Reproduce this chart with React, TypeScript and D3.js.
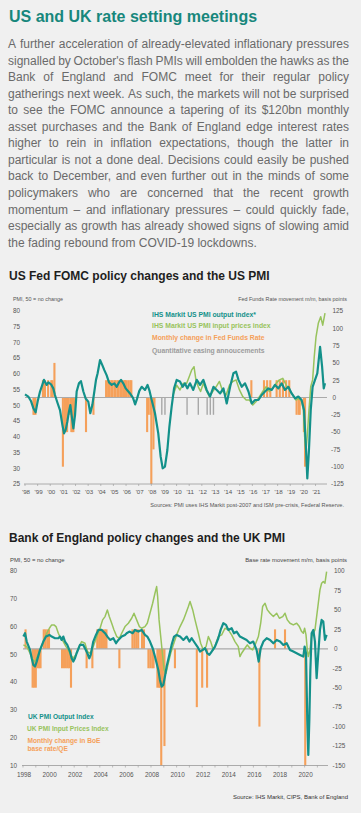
import React from 'react';
import * as d3 from 'd3';

// ---- text ----
const pageTitle = 'US and UK rate setting meetings';
const bodyLines = [
  'A further acceleration of already-elevated inflationary pressures',
  "signalled by October's flash PMIs will embolden the hawks as the",
  'Bank of England and FOMC meet for their regular policy',
  'gatherings next week. As such, the markets will not be surprised',
  'to see the FOMC announce a tapering of its $120bn monthly',
  'asset purchases and the Bank of England edge interest rates',
  'higher to rein in inflation expectations, though the latter in',
  'particular is not a done deal. Decisions could easily be pushed',
  'back to December, and even further out in the minds of some',
  'policymakers who are concerned that the recent growth',
  'momentum \u2013 and inflationary pressures \u2013 could quickly fade,',
  'especially as growth has already showed signs of slowing amid',
  'the fading rebound from COVID-19 lockdowns.',
];

// ---- US chart data: [year, value] ----
const usOutput: [number, number][] = [
  [1998.0, 53.5], [1998.26, 52.8], [1998.47, 51.4], [1998.66, 49.1], [1998.84, 47.8], [1999.0, 51.2],
  [1999.19, 54.4], [1999.37, 56.5], [1999.5, 58.1], [1999.72, 56.5], [1999.85, 57.3], [2000.06, 56.7],
  [2000.24, 55.4], [2000.37, 53.3], [2000.59, 50.6], [2000.77, 48.5], [2000.96, 43.8], [2001.09, 41.1],
  [2001.22, 42.2], [2001.35, 44.8], [2001.48, 48.0], [2001.59, 50.1], [2001.69, 46.9], [2001.83, 42.7],
  [2001.96, 46.9], [2002.09, 54.4], [2002.27, 57.0], [2002.43, 57.7], [2002.62, 54.4], [2002.8, 52.2],
  [2003.01, 51.2], [2003.17, 47.5], [2003.33, 50.1], [2003.49, 54.4], [2003.62, 58.1], [2003.75, 60.2],
  [2003.94, 64.4], [2004.12, 62.8], [2004.28, 61.2], [2004.46, 59.6], [2004.65, 57.3], [2004.86, 56.5],
  [2005.07, 57.0], [2005.26, 55.9], [2005.44, 57.3], [2005.6, 58.1], [2005.78, 57.0], [2005.97, 55.4],
  [2006.18, 54.4], [2006.35, 53.6], [2006.55, 52.4], [2006.72, 50.3], [2006.86, 52.0], [2007.05, 54.6],
  [2007.24, 55.9], [2007.5, 54.9], [2007.7, 56.5], [2007.86, 54.6], [2008.03, 51.7], [2008.29, 47.5],
  [2008.55, 41.1], [2008.74, 33.7], [2008.9, 30.0], [2009.08, 30.5], [2009.27, 35.8], [2009.43, 43.2],
  [2009.61, 49.6], [2009.8, 55.4], [2010.01, 58.1], [2010.27, 57.6], [2010.48, 55.9], [2010.66, 57.0],
  [2010.85, 55.4], [2011.06, 57.0], [2011.32, 54.9], [2011.6, 58.1], [2011.86, 56.5], [2012.12, 58.1],
  [2012.38, 54.9], [2012.65, 52.8], [2012.92, 55.9], [2013.18, 54.9], [2013.45, 53.8], [2013.71, 55.4],
  [2013.97, 50.6], [2014.24, 55.9], [2014.5, 60.2], [2014.71, 60.7], [2014.9, 58.1], [2015.16, 55.9],
  [2015.42, 57.0], [2015.69, 54.4], [2015.95, 50.6], [2016.21, 51.7], [2016.48, 51.7], [2016.74, 53.3],
  [2017.0, 54.4], [2017.27, 55.4], [2017.53, 54.9], [2017.79, 56.5], [2018.06, 55.4], [2018.32, 57.0],
  [2018.58, 54.9], [2018.85, 55.9], [2019.11, 53.8], [2019.38, 52.2], [2019.64, 52.8], [2019.9, 51.7],
  [2020.09, 48.5], [2020.25, 35.8], [2020.35, 26.8], [2020.48, 35.8], [2020.62, 48.5], [2020.77, 55.9],
  [2020.96, 58.1], [2021.14, 60.2], [2021.36, 68.6], [2021.52, 62.3], [2021.65, 55.4], [2021.75, 57.0],
];
const usInput: [number, number][] = [
  [2009.72, 53.3], [2010.01, 56.4], [2010.27, 54.9], [2010.53, 57.0], [2010.8, 57.0], [2011.0, 59.1],
  [2011.19, 61.2], [2011.38, 62.3], [2011.53, 58.1], [2011.72, 55.9], [2011.9, 54.4], [2012.12, 57.0],
  [2012.33, 54.9], [2012.6, 52.8], [2012.86, 54.4], [2013.13, 55.9], [2013.39, 57.6], [2013.66, 54.4],
  [2013.92, 53.3], [2014.19, 56.5], [2014.45, 57.6], [2014.71, 58.1], [2014.98, 54.9], [2015.24, 52.8],
  [2015.51, 51.7], [2015.77, 51.7], [2016.03, 50.1], [2016.3, 51.2], [2016.56, 52.8], [2016.82, 54.4],
  [2017.09, 55.9], [2017.35, 54.4], [2017.62, 55.4], [2017.88, 57.0], [2018.14, 58.1], [2018.41, 58.6],
  [2018.67, 56.5], [2018.93, 54.9], [2019.2, 53.3], [2019.46, 51.7], [2019.72, 52.2], [2019.9, 51.2],
  [2020.04, 48.5], [2020.14, 40.0], [2020.24, 35.5], [2020.35, 40.5], [2020.48, 48.5], [2020.62, 55.9],
  [2020.77, 58.1], [2020.9, 65.5], [2021.04, 71.8], [2021.22, 76.1], [2021.41, 78.2], [2021.57, 75.5],
  [2021.75, 79.3],
];
const fedMoves: [number, number][] = [
  [1998.67, -25], [1998.75, -25], [1998.83, -25],
  [1999.42, 25], [1999.58, 25], [1999.83, 25], [2000.08, 25], [2000.17, 25], [2000.33, 50],
  [2001.0, -100], [2001.17, -50], [2001.25, -50], [2001.33, -50], [2001.42, -25], [2001.58, -25],
  [2001.67, -50], [2001.75, -50], [2001.83, -50], [2001.92, -25],
  [2002.83, -50], [2003.42, -25],
  [2004.42, 25], [2004.58, 25], [2004.67, 25], [2004.83, 25], [2004.92, 25], [2005.08, 25], [2005.17, 25],
  [2005.33, 25], [2005.42, 25], [2005.58, 25], [2005.67, 25], [2005.83, 25], [2005.92, 25], [2006.0, 25],
  [2006.17, 25], [2006.33, 25], [2006.42, 25],
  [2007.67, -50], [2007.75, -25], [2007.92, -25], [2008.0, -125], [2008.17, -75], [2008.25, -25],
  [2015.92, 25], [2016.92, 25], [2017.17, 25], [2017.42, 25], [2017.92, 25], [2018.17, 25], [2018.42, 25],
  [2018.67, 25], [2018.92, 25],
  [2019.5, -25], [2019.67, -25], [2019.75, -25], [2020.08, -50], [2020.17, -100],
];
const qeDates = [2008.83, 2009.08, 2010.83, 2011.72, 2012.42, 2012.67, 2012.92];
const qeSize = -25;
const usYearLabels = d3.range(1998, 2022);

// ---- UK chart data ----
const ukOutput: [number, number][] = [
  [1998.03, 56.4], [1998.16, 57.6], [1998.29, 54.6], [1998.55, 51.6], [1998.68, 48.6], [1998.81, 46.2],
  [1998.94, 45.6], [1999.07, 47.4], [1999.33, 51.6], [1999.59, 54.6], [1999.8, 56.4], [2000.06, 57.0],
  [2000.24, 56.4], [2000.5, 55.8], [2000.76, 55.8], [2000.89, 56.4], [2001.02, 55.2], [2001.15, 56.4],
  [2001.28, 54.6], [2001.46, 53.4], [2001.67, 51.0], [2001.8, 48.6], [2001.93, 47.4], [2002.06, 48.6],
  [2002.19, 50.4], [2002.45, 53.4], [2002.71, 53.4], [2002.84, 52.2], [2003.03, 50.4], [2003.18, 48.6],
  [2003.29, 49.8], [2003.49, 54.6], [2003.7, 57.0], [2003.89, 58.8], [2004.15, 58.8], [2004.41, 57.6],
  [2004.59, 56.4], [2004.8, 55.2], [2005.06, 55.8], [2005.27, 54.0], [2005.45, 55.2], [2005.71, 56.4],
  [2005.97, 57.0], [2006.1, 57.6], [2006.31, 58.2], [2006.57, 57.6], [2006.75, 58.8], [2007.01, 58.2],
  [2007.27, 58.8], [2007.53, 57.0], [2007.71, 56.4], [2007.92, 54.6], [2008.13, 52.2], [2008.31, 49.2],
  [2008.44, 46.8], [2008.57, 44.4], [2008.7, 40.8], [2008.83, 38.4], [2008.96, 39.0], [2009.09, 42.0],
  [2009.22, 45.6], [2009.43, 49.8], [2009.61, 53.4], [2009.8, 56.4], [2010.0, 57.0], [2010.27, 56.4],
  [2010.53, 55.2], [2010.79, 56.4], [2011.0, 54.6], [2011.18, 55.8], [2011.44, 54.0], [2011.62, 52.8],
  [2011.83, 51.0], [2012.04, 51.6], [2012.22, 52.2], [2012.4, 50.4], [2012.56, 49.8], [2012.74, 51.0],
  [2013.0, 52.8], [2013.26, 55.8], [2013.44, 58.8], [2013.65, 61.2], [2013.86, 60.6], [2014.04, 58.8],
  [2014.3, 59.4], [2014.48, 57.6], [2014.69, 58.2], [2014.95, 56.4], [2015.21, 55.8], [2015.47, 55.2],
  [2015.73, 54.0], [2015.99, 54.6], [2016.25, 51.6], [2016.41, 47.4], [2016.57, 52.2], [2016.78, 54.6],
  [2017.04, 55.8], [2017.3, 55.2], [2017.56, 54.0], [2017.82, 55.2], [2018.08, 54.6], [2018.34, 53.4],
  [2018.6, 54.0], [2018.86, 51.6], [2019.12, 51.0], [2019.38, 50.4], [2019.64, 49.8], [2019.9, 49.2],
  [2020.0, 52.8], [2020.11, 50.4], [2020.21, 26.4], [2020.29, 13.8], [2020.37, 26.4], [2020.45, 44.4],
  [2020.55, 57.6], [2020.68, 58.8], [2020.81, 54.6], [2020.94, 41.4], [2021.07, 50.4], [2021.2, 58.8],
  [2021.33, 62.4], [2021.46, 61.8], [2021.59, 55.2], [2021.72, 57.0],
];
const ukInput: [number, number][] = [
  [1998.03, 53.4], [1998.29, 52.8], [1998.55, 50.4], [1998.76, 48.0], [1998.94, 47.4], [1999.12, 49.2],
  [1999.33, 51.6], [1999.59, 54.6], [1999.85, 57.6], [2000.06, 59.4], [2000.24, 60.6], [2000.42, 60.6],
  [2000.58, 60.0], [2000.76, 57.6], [2000.94, 55.8], [2001.15, 54.6], [2001.36, 52.8], [2001.54, 51.6],
  [2001.72, 49.8], [2001.93, 48.6], [2002.11, 49.8], [2002.32, 52.2], [2002.58, 54.6], [2002.84, 54.0],
  [2003.03, 51.0], [2003.23, 50.4], [2003.44, 52.2], [2003.63, 54.6], [2003.81, 57.0], [2004.02, 59.4],
  [2004.22, 62.4], [2004.41, 63.6], [2004.59, 66.0], [2004.74, 63.6], [2004.93, 61.2], [2005.11, 58.8],
  [2005.32, 56.4], [2005.53, 55.8], [2005.71, 57.6], [2005.97, 60.0], [2006.23, 61.2], [2006.49, 63.0],
  [2006.67, 64.8], [2006.88, 62.4], [2007.09, 60.0], [2007.27, 59.4], [2007.53, 60.0], [2007.71, 61.2],
  [2007.92, 64.8], [2008.13, 68.4], [2008.31, 72.0], [2008.44, 74.4], [2008.52, 70.8], [2008.63, 62.4],
  [2008.76, 56.4], [2008.89, 50.4], [2009.02, 44.4], [2009.17, 43.2], [2009.35, 46.8], [2009.54, 50.4],
  [2009.74, 53.4], [2010.0, 57.0], [2010.27, 60.0], [2010.53, 62.4], [2010.73, 64.8], [2010.92, 67.2],
  [2011.05, 69.0], [2011.26, 66.0], [2011.44, 62.4], [2011.7, 57.6], [2011.88, 54.0], [2012.09, 51.6],
  [2012.3, 52.8], [2012.48, 56.4], [2012.66, 54.6], [2012.87, 51.6], [2013.08, 54.0], [2013.26, 56.4],
  [2013.52, 57.0], [2013.78, 59.4], [2014.04, 58.8], [2014.3, 57.0], [2014.56, 54.6], [2014.82, 52.8],
  [2014.95, 49.2], [2015.08, 50.4], [2015.34, 52.2], [2015.52, 53.4], [2015.73, 52.2], [2015.94, 51.6],
  [2016.13, 53.4], [2016.39, 56.4], [2016.57, 61.2], [2016.72, 67.2], [2016.91, 68.4], [2017.09, 66.0],
  [2017.3, 64.8], [2017.56, 63.6], [2017.82, 64.8], [2018.03, 63.0], [2018.29, 63.6], [2018.47, 64.8],
  [2018.65, 62.4], [2018.86, 61.2], [2019.12, 60.6], [2019.38, 61.2], [2019.59, 60.0], [2019.77, 58.2],
  [2019.9, 57.6], [2020.0, 59.4], [2020.11, 57.0], [2020.21, 51.6], [2020.29, 49.2], [2020.42, 51.6],
  [2020.55, 56.4], [2020.68, 57.6], [2020.81, 58.8], [2020.94, 63.6], [2021.07, 68.4], [2021.2, 73.2],
  [2021.33, 75.6], [2021.46, 76.2], [2021.59, 75.6], [2021.72, 79.8],
];
const boeMoves: [number, number][] = [
  [1998.2, 25],
  [1998.75, -50], [1998.87, -50], [1999.0, -50], [1999.12, -25], [1999.25, -25], [1999.37, -25],
  [1999.62, 25], [1999.75, 25], [1999.9, 25], [2000.03, 25],
  [2001.05, -25], [2001.2, -25], [2001.35, -25], [2001.5, -25], [2001.62, -25], [2001.75, -50],
  [2002.97, -25], [2003.42, -25],
  [2003.8, 25], [2003.95, 25], [2004.1, 25], [2004.25, 25], [2004.4, 25], [2004.52, 25],
  [2005.53, -25],
  [2006.55, 25], [2006.7, 25], [2006.85, 25], [2007.0, 25], [2007.3, 25], [2007.45, 25],
  [2007.8, -25], [2007.95, -25], [2008.1, -25], [2008.2, -25],
  [2008.5, -50], [2008.62, -50], [2008.72, -50], [2008.8, -150], [2008.92, -50], [2009.05, -125],
  [2009.87, -25],
  [2011.58, -75], [2012.0, -50], [2012.38, -50],
  [2016.47, -100],
  [2017.69, 25], [2018.47, 25],
  [2020.05, -150],
];
const ukYearLabels = d3.range(1998, 2021, 2);

const usPmiTicks = [80, 75, 70, 65, 60, 55, 50, 45, 40, 35, 30, 25];
const usBpTicks = [125, 100, 75, 50, 25, 0, -25, -50, -75, -100, -125];
const ukPmiTicks = [80, 70, 60, 50, 40, 30, 20, 10];
const ukBpTicks = [100, 75, 50, 25, 0, -25, -50, -75, -100, -125, -150];

// ---- colours ----
const TEAL = '#13918a';
const GREEN = '#98c35d';
const ORANGE = '#f5a05a';
const GREY = '#a8a8a8';
const FONT = "'Liberation Sans', Arial, sans-serif";

const ctx = document.createElement('canvas').getContext('2d')!;
function measure(s: string, font: string) {
  ctx.font = font;
  return ctx.measureText(s).width;
}

function Paragraph() {
  const font = `12px ${FONT}`;
  const left = 8, width = 341, top = 48.3, step = 16.52;
  return (
    <g fill="#6a6a6a" fontFamily={FONT} fontSize={12}>
      {bodyLines.map((line, i) => {
        const words = line.split(' ');
        const ws = words.map(w => measure(w, font));
        const total = d3.sum(ws);
        const last = i === bodyLines.length - 1;
        const gap = last ? measure(' ', font) : (width - total) / (words.length - 1);
        let x = left;
        return (
          <text key={i} y={top + i * step}>
            {words.map((w, j) => {
              const el = <tspan key={j} x={x}>{w}</tspan>;
              x += ws[j] + gap;
              return el;
            })}
          </text>
        );
      })}
    </g>
  );
}

function USChart() {
  const x = d3.scaleLinear().domain([1998, 2021.75]).range([25, 325]);
  const y = d3.scaleLinear().domain([25, 80]).range([484, 311]);
  const bp = d3.scaleLinear().domain([-125, 125]).range([484, 311]);
  const line = d3.line<[number, number]>().x(d => x(d[0])).y(d => y(d[1]));
  const bw = 2.1;
  return (
    <g fontFamily={FONT}>
      <text x={9} y={280} fontSize={12} fontWeight="bold" fill="#1e1e1e">US Fed FOMC policy changes and the US PMI</text>
      <text x={13} y={301} fontSize={5.4} fill="#555">PMI, 50 = no change</text>
      <text x={347} y={301} fontSize={5.4} fill="#555" textAnchor="end">Fed Funds Rate movement m/m, basis points</text>
      {usPmiTicks.map(t => (
        <text key={t} x={13} y={y(t) + 2.3} fontSize={6.4} fill="#555">{t}</text>
      ))}
      {usBpTicks.map(t => (
        <text key={t} x={t < 0 ? 331 : 332.5} y={bp(t) + 2.3} fontSize={6.4} fill="#555">{t}</text>
      ))}
      {fedMoves.map(([d, v], i) => (
        <rect key={i} x={x(d) - bw / 2} width={bw} y={Math.min(bp(v), bp(0))} height={Math.abs(bp(v) - bp(0))} fill={ORANGE} />
      ))}
      {qeDates.map((d, i) => (
        <rect key={i} x={x(d) - 0.7} width={1.4} y={bp(0)} height={bp(qeSize) - bp(0)} fill={GREY} />
      ))}
      <line x1={25} x2={327} y1={bp(0)} y2={bp(0)} stroke="#aaa" strokeWidth={1.2} />
      <path d={line(usInput)!} fill="none" stroke={GREEN} strokeWidth={1.5} strokeLinejoin="round" />
      <path d={line(usOutput)!} fill="none" stroke={TEAL} strokeWidth={2.2} strokeLinejoin="round" />
      <line x1={24} x2={327} y1={484} y2={484} stroke="#999" strokeWidth={0.8} />
      {usYearLabels.map(yr => (
        <g key={yr}>
          <line x1={x(yr)} x2={x(yr)} y1={484} y2={486} stroke="#999" strokeWidth={0.6} />
          <text x={x(yr) + 1} y={494} fontSize={6.2} fill="#555" textAnchor="middle">{"'" + String(yr).slice(2)}</text>
        </g>
      ))}
      <g fontSize={6.8} fontWeight="bold" style={{ whiteSpace: 'pre' }}>
        <text x={152} y={316.5} fill={TEAL}>IHS Markit US PMI  output  index*</text>
        <text x={152} y={328.3} fill={GREEN}>IHS Markit US PMI  input  prices index</text>
        <text x={152} y={340.3} fill={ORANGE}>Monthly change in Fed Funds Rate</text>
        <text x={152} y={352.5} fill="#9c9c9c">Quantitative easing annoucements</text>
      </g>
      <text x={344} y={507} fontSize={5.6} fill="#555" textAnchor="end">Sources: PMI uses IHS Markit post-2007 and  ISM pre-crisis, Federal Reserve.</text>
    </g>
  );
}

function UKChart() {
  const x = d3.scaleLinear().domain([1998, 2021.75]).range([23, 327]);
  const y = d3.scaleLinear().domain([10, 80]).range([765.5, 571]);
  const bp = d3.scaleLinear().domain([-150, 100]).range([765.5, 571]);
  const line = d3.line<[number, number]>().x(d => x(d[0])).y(d => y(d[1]));
  const bw = 2.1;
  return (
    <g fontFamily={FONT}>
      <text x={9} y={541.5} fontSize={12} fontWeight="bold" fill="#1e1e1e">Bank of England policy changes and the UK PMI</text>
      <text x={10} y={561.5} fontSize={5.9} fill="#444">PMI, 50 = no change</text>
      <text x={347} y={561.5} fontSize={5.9} fill="#444" textAnchor="end">Base rate movement m/m, basis points</text>
      {ukPmiTicks.map(t => (
        <text key={t} x={10} y={y(t) + 2.3} fontSize={6.4} fill="#555">{t}</text>
      ))}
      {ukBpTicks.map(t => (
        <text key={t} x={t < 0 ? 332.5 : 334} y={bp(t) + 2.3} fontSize={6.4} fill="#555">{t}</text>
      ))}
      {boeMoves.map(([d, v], i) => (
        <rect key={i} x={x(d) - bw / 2} width={bw} y={Math.min(bp(v), bp(0))} height={Math.abs(bp(v) - bp(0))} fill={ORANGE} />
      ))}
      <line x1={23} x2={328} y1={bp(0)} y2={bp(0)} stroke="#aaa" strokeWidth={1.2} />
      <path d={line(ukInput)!} fill="none" stroke={GREEN} strokeWidth={1.5} strokeLinejoin="round" />
      <path d={line(ukOutput)!} fill="none" stroke={TEAL} strokeWidth={2.2} strokeLinejoin="round" />
      <line x1={22} x2={328} y1={765.5} y2={765.5} stroke="#999" strokeWidth={0.8} />
      {d3.range(1998, 2022).map(yr => (
        <line key={yr} x1={x(yr)} x2={x(yr)} y1={765.5} y2={767.5} stroke="#999" strokeWidth={0.6} />
      ))}
      {ukYearLabels.map(yr => (
        <text key={yr} x={x(yr) + 1} y={776.7} fontSize={6.4} fill="#555" textAnchor="middle">{yr}</text>
      ))}
      <g fontSize={6.6} fontWeight="bold">
        <text x={28} y={719} fill={TEAL}>UK PMI Output Index</text>
        <text x={27} y={731} fill={GREEN}>UK PMI Input Prices Index</text>
        <text x={27.5} y={742.5} fill={ORANGE}>Monthly change in BoE</text>
        <text x={27.5} y={751} fill={ORANGE}>base rate/QE</text>
      </g>
      <text x={348} y={799} fontSize={6} fill="#333" textAnchor="end">Source: IHS Markit, CIPS, Bank of England</text>
    </g>
  );
}

export default function App() {
  return (
    <svg width={361} height={813} style={{ position: 'absolute', left: 0, top: 0, display: 'block' }}>
      <rect width={361} height={813} fill="#f0f0f0" />
      <text x={9} y={22} fontFamily={FONT} fontSize={16} fontWeight="bold" fill="#17877c">{pageTitle}</text>
      <Paragraph />
      <USChart />
      <UKChart />
    </svg>
  );
}
